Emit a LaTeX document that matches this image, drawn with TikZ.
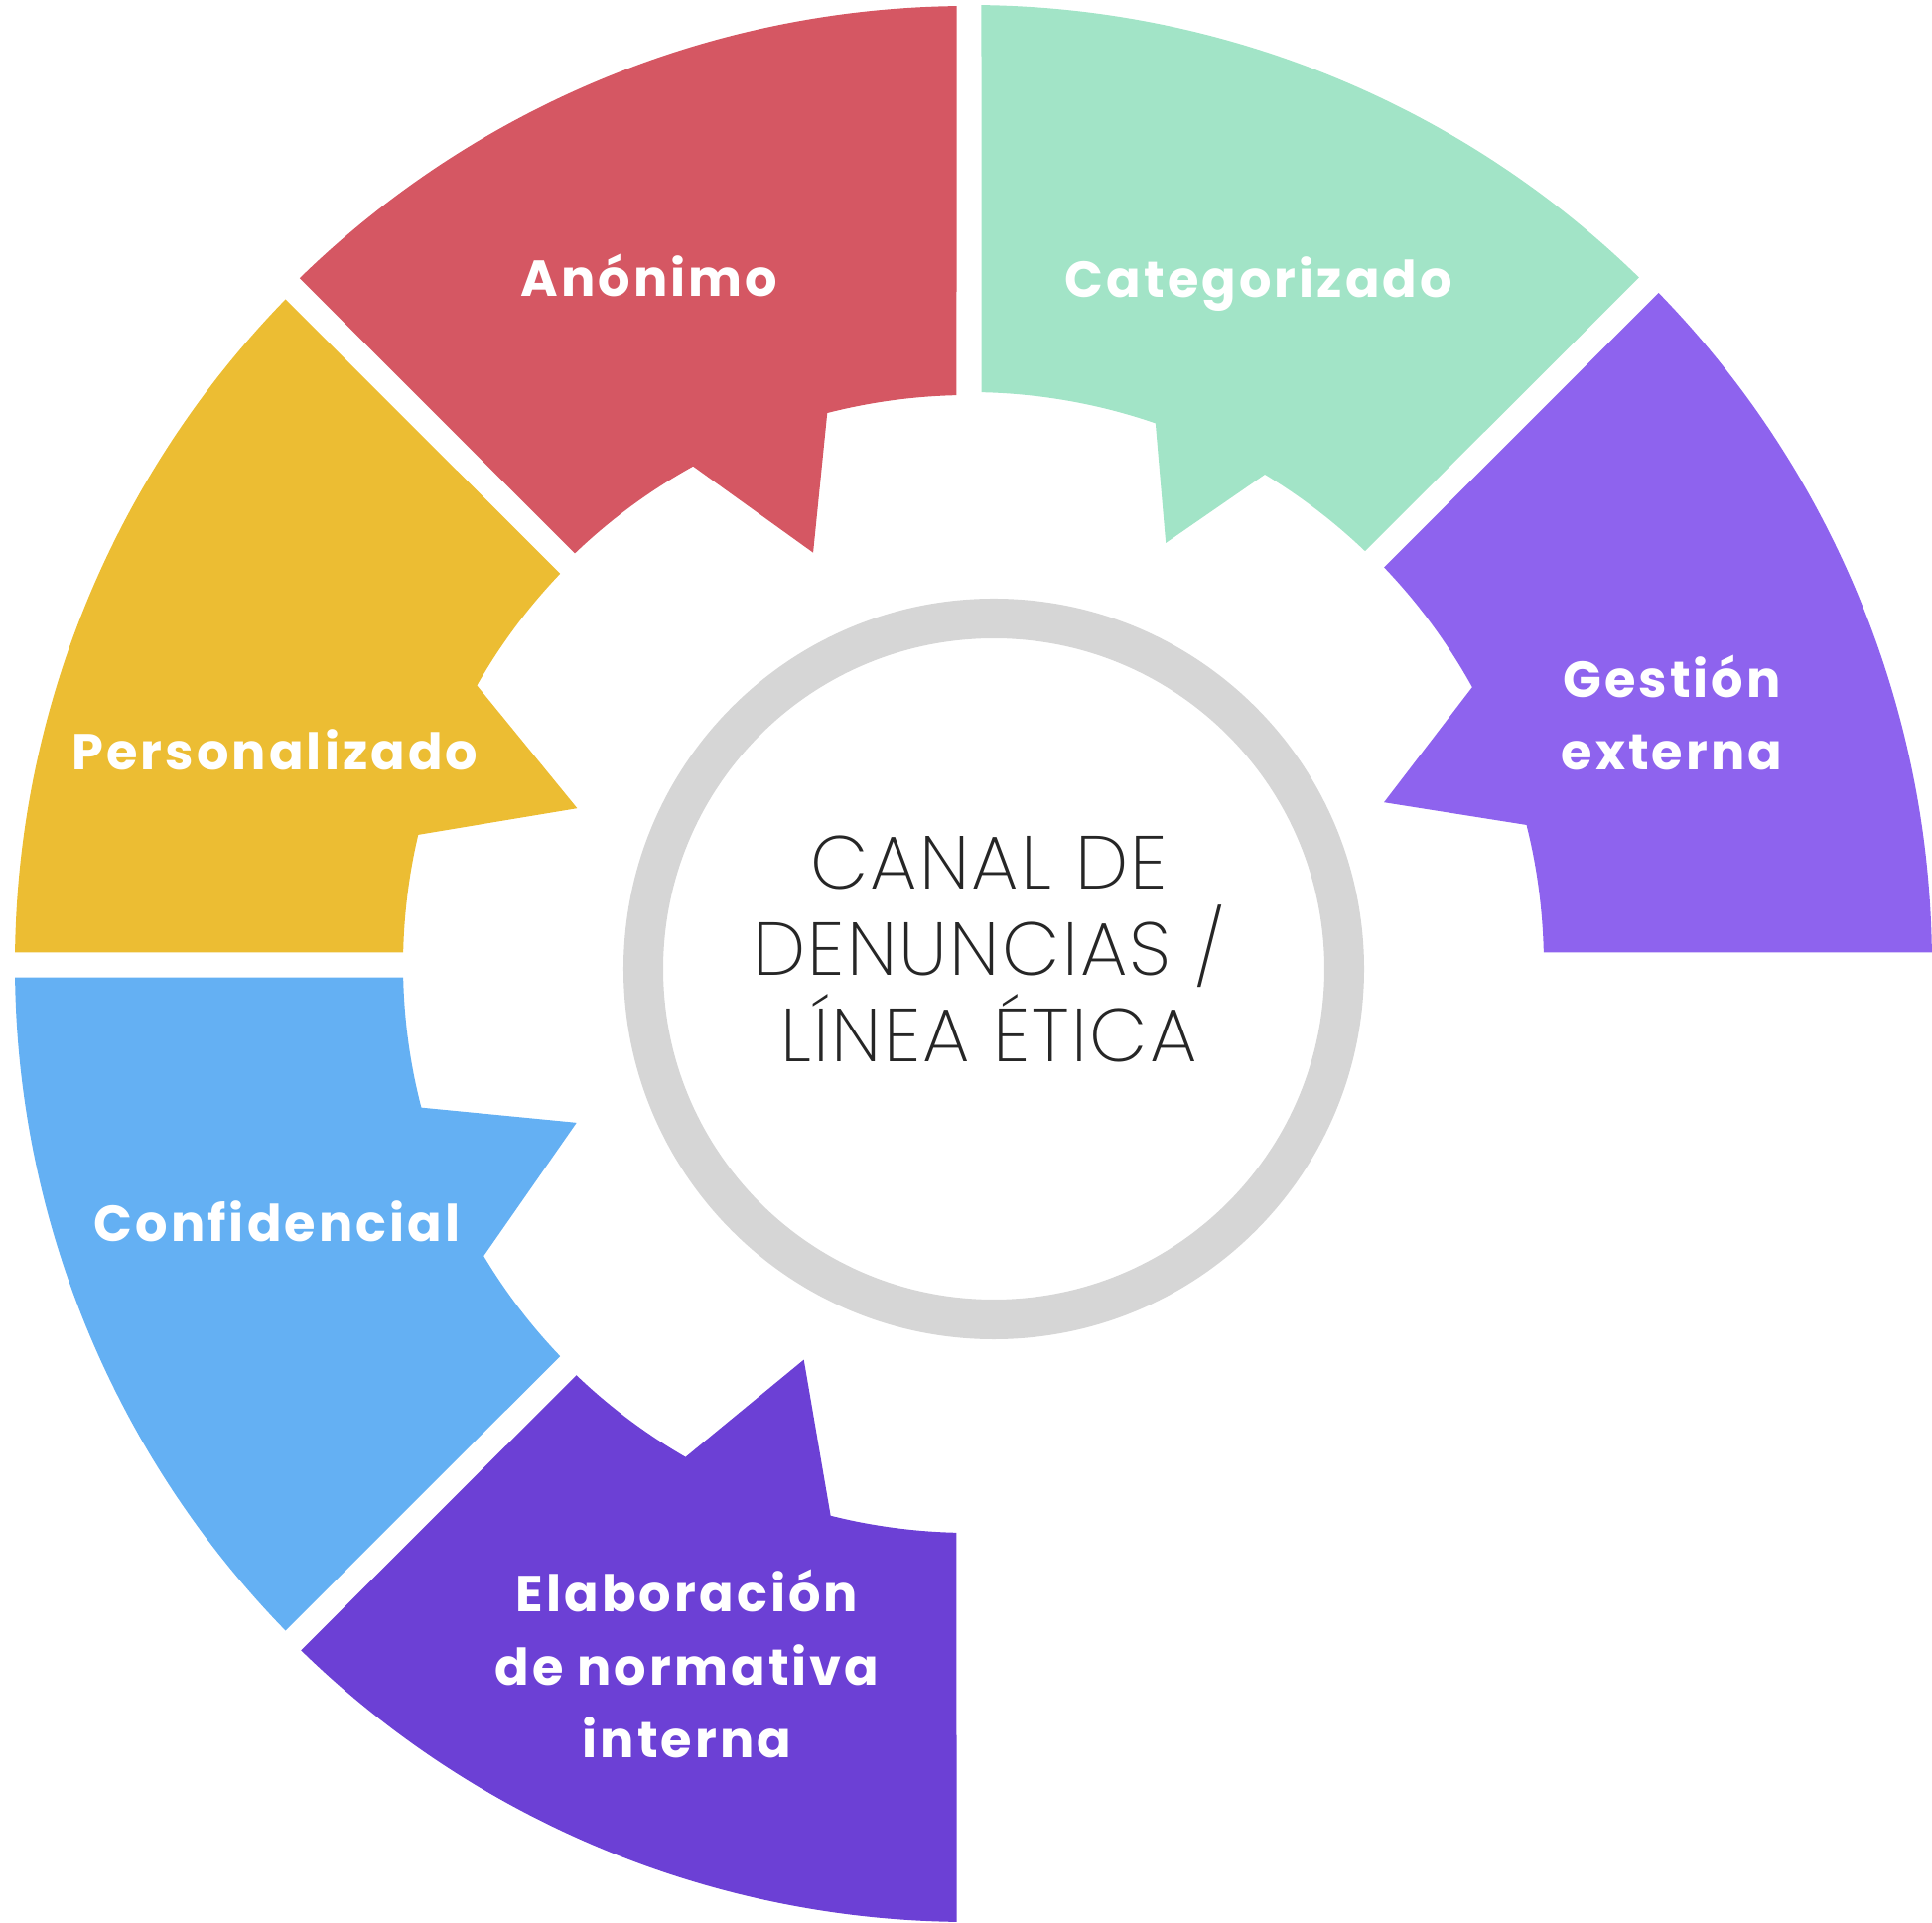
\documentclass[tikz,border=0pt]{standalone}
\usepackage{fontspec}
\setmainfont{Poppins}
\newfontfamily\finafont{Poppins ExtraLight}[LetterSpace=3]
\newfontfamily\rotulofont{Poppins Bold}[LetterSpace=6]

\definecolor{rojo}{HTML}{D55763}
\definecolor{verde}{HTML}{A2E4C7}
\definecolor{lila}{HTML}{8E63EE}
\definecolor{amarillo}{HTML}{ECBD33}
\definecolor{azul}{HTML}{64B0F3}
\definecolor{morado}{HTML}{6C40D5}
\definecolor{gris}{HTML}{D6D6D6}

\tikzset{
  etiqueta/.style={text=white, font=\rotulofont\fontsize{14.5}{21}\selectfont, align=center},
  anillo/.style={draw=gris, line width=0.4cm},
}

\begin{document}
\begin{tikzpicture}[x=0.01cm, y=0.01cm]
	\useasboundingbox (-976,-965) rectangle (970,972);

	% sectores
	\fill[rojo] (90.74:966) -- (91.25:574) arc[start angle=91.25, end angle=104.4, radius=574]
		-- (110.7:444) -- (118.95:574) arc[start angle=118.95, end angle=133.75, radius=574]
		-- (134.26:966) arc[start angle=134.26, end angle=90.74, radius=966] -- cycle;
	\fill[verde] (89.26:967) -- (88.75:577) arc[start angle=88.75, end angle=71, radius=577]
		-- (65:469) -- (58.9:577) arc[start angle=58.9, end angle=46.25, radius=577]
		-- (45.74:967) arc[start angle=45.74, end angle=89.26, radius=967] -- cycle;
	\fill[lila] (44.26:970) -- (43.76:579) arc[start angle=43.76, end angle=28.9, radius=579]
		-- (21.4:449) -- (14.1:579) arc[start angle=14.1, end angle=1.24, radius=579]
		-- (0.74:970) arc[start angle=0.74, end angle=44.26, radius=970] -- cycle;
	\fill[amarillo] (135.75:961) -- (136.26:570) arc[start angle=136.26, end angle=150.4, radius=570]
		-- (158.2:425) -- (166.7:570) arc[start angle=166.7, end angle=178.74, radius=570]
		-- (179.25:961) arc[start angle=179.25, end angle=135.75, radius=961] -- cycle;
	\fill[azul] (180.75:961) -- (181.26:570) arc[start angle=181.26, end angle=194.6, radius=570]
		-- (201.9:426) -- (210.95:570) arc[start angle=210.95, end angle=223.74, radius=570]
		-- (224.25:961) arc[start angle=224.25, end angle=180.75, radius=961] -- cycle;
	\fill[morado] (225.74:964) -- (226.26:572) arc[start angle=226.26, end angle=240.06, radius=572]
		-- (247.3:431) -- (255.9:572) arc[start angle=255.9, end angle=268.74, radius=572]
		-- (269.26:964) arc[start angle=269.26, end angle=225.74, radius=964] -- cycle;

	% anillo central
	\draw[anillo] (25,-4) circle[radius=353];
	\node[font=\finafont\fontsize{21.5}{24.75}\selectfont, align=center, text=black!85] (centro) at (20,16)
		{CANAL DE\\DENUNCIAS /\\LÍNEA ÉTICA};

	% etiquetas
	\node[etiqueta] (anonimo) at (-322,695) {Anónimo};
	\node[etiqueta] (categorizado) at (292,686) {Categorizado};
	\node[etiqueta] (gestion) at (708,254) {Gestión\\externa};
	\node[etiqueta] (personalizado) at (-699,217) {Personalizado};
	\node[etiqueta] (confidencial) at (-697,-258) {Confidencial};
	\node[etiqueta] (elaboracion) at (-284,-704) {Elaboración\\de normativa\\interna};
\end{tikzpicture}
\end{document}
